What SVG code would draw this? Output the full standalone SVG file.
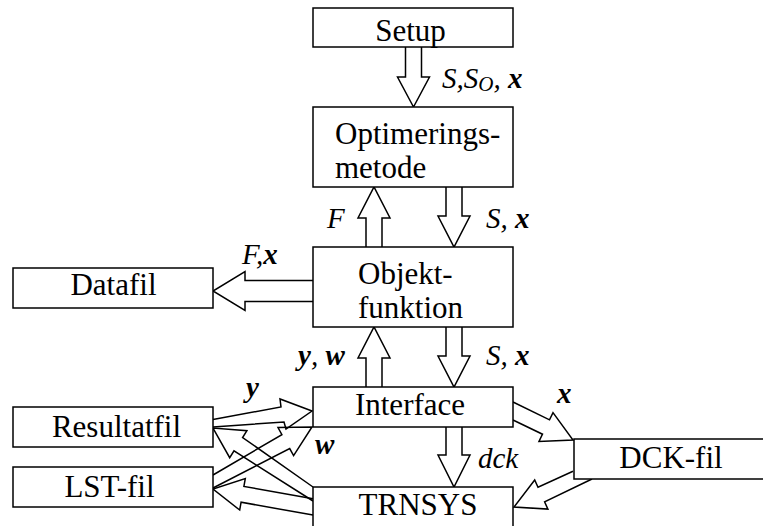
<svg xmlns="http://www.w3.org/2000/svg" width="763" height="526" viewBox="0 0 763 526">
<style>
.box{fill:#fff;stroke:#000;stroke-width:1.5}
.arr{fill:none;stroke:#000;stroke-width:1.5;stroke-linejoin:miter}
text{font-family:"Liberation Serif","Times New Roman",serif;fill:#000}
.t{font-size:31px}
.l{font-size:29px;font-style:italic}
.b{font-weight:bold}
</style>
<rect width="763" height="526" fill="#fff"/>
<g id="connectors">
<polyline class="arr" points="405.5,47 405.5,77 397.5,77 413.5,107 429.5,77 421.5,77 421.5,47"/>
<polyline class="arr" points="366,247 366,218 358,218 374,187 390,218 382,218 382,247"/>
<polyline class="arr" points="446,187 446,216 438,216 454,247 470,216 462,216 462,187"/>
<polyline class="arr" points="313,280.5 245,280.5 245,271.5 213,291 245,310.5 245,301.5 313,301.5"/>
<polyline class="arr" points="366,387 366,358 358,358 374,327 390,358 382,358 382,387"/>
<polyline class="arr" points="446,327 446,356 438,356 454,387 470,356 462,356 462,327"/>
<polyline class="arr" points="446,427 446,455 438,455 454,487 470,455 462,455 462,427"/>
<polyline class="arr" points="513,402 549.5,419.8 553,412.6 573,440 539,441.4 542.5,434.2 513,420"/>
<polyline class="arr" points="573,471.3 538,487.3 534.7,480 514,507 547.9,509.1 544.6,501.8 592,479"/>
<polyline class="arr" points="213,419.5 281,407 280,399 312,411 286,429 284,422 213,427"/>
<polyline class="arr" points="213,475 281.9,434.6 278,427.6 312,427 293.6,455.6 289.7,448.6 213,488"/>
<polyline class="arr" points="313,487 242.6,437.5 246.9,430.7 213,428 229.7,457.7 234,450.9 313,501"/>
<polyline class="arr" points="313,498.8 243.9,486.4 245.3,478.6 213,489 239.7,510 241.1,502.2 313,515.1"/>
<text class="l" x="442" y="88">S,S<tspan font-size="21" dy="3">O</tspan><tspan dy="-3">, </tspan><tspan class="b">x</tspan></text>
<text class="l" x="327" y="228">F</text>
<text class="l" x="486" y="228">S, <tspan class="b">x</tspan></text>
<text class="l" x="242" y="264">F,<tspan class="b">x</tspan></text>
<text class="l" x="298" y="365"><tspan class="b">y</tspan>, <tspan class="b">w</tspan></text>
<text class="l" x="486" y="365">S, <tspan class="b">x</tspan></text>
<text class="l b" x="246" y="397">y</text>
<text class="l b" x="315" y="454">w</text>
<text class="l b" x="557" y="403">x</text>
<text class="l" x="478" y="468">dck</text>
</g>
<g id="setup"><rect class="box" x="313" y="8" width="200" height="39"/><text class="t" x="410.5" y="41" text-anchor="middle">Setup</text></g>
<g id="optimeringsmetode"><rect class="box" x="313" y="107" width="200" height="80"/><text class="t" x="335" y="144">Optimerings-</text><text class="t" x="335" y="178">metode</text></g>
<g id="objektfunktion"><rect class="box" x="313" y="247" width="200" height="80"/><text class="t" x="358" y="284">Objekt-</text><text class="t" x="358" y="318">funktion</text></g>
<g id="datafil"><rect class="box" x="13" y="268" width="200" height="40"/><text class="t" x="113.5" y="295" text-anchor="middle">Datafil</text></g>
<g id="interface"><rect class="box" x="313" y="387" width="200" height="40"/><text class="t" x="410" y="415" text-anchor="middle">Interface</text></g>
<g id="resultatfil"><rect class="box" x="13" y="407" width="200" height="40"/><text class="t" x="116.5" y="437" text-anchor="middle">Resultatfil</text></g>
<g id="lstfil"><rect class="box" x="13" y="467" width="200" height="40"/><text class="t" x="109.5" y="497" text-anchor="middle">LST-fil</text></g>
<g id="dckfil"><rect class="box" x="574" y="439" width="200" height="40"/><text class="t" x="671" y="468" text-anchor="middle">DCK-fil</text></g>
<g id="trnsys"><rect class="box" x="313" y="487" width="200" height="50"/><text class="t" x="418" y="515" text-anchor="middle">TRNSYS</text></g>
</svg>
